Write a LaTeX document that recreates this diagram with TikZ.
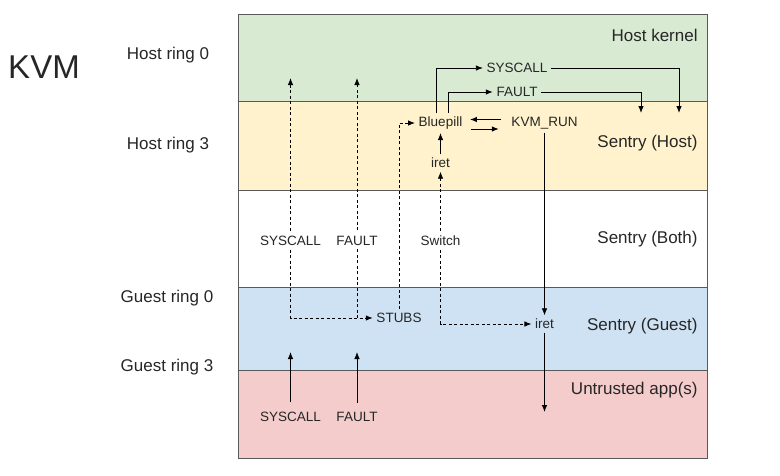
\documentclass[tikz,border=0pt]{standalone}
\usepackage{fontspec}
\setmainfont{Liberation Sans}
\usetikzlibrary{positioning,arrows.meta}
\definecolor{kerngreen}{HTML}{D9EAD3}
\definecolor{hostyellow}{HTML}{FFF2CC}
\definecolor{guestblue}{HTML}{CFE2F3}
\definecolor{apppink}{HTML}{F4CCCC}
\definecolor{bandline}{HTML}{595959}
\tikzset{
  lbl/.style={font=\fontsize{13.5}{16}\selectfont,text=black!85},
  ring/.style={font=\fontsize{17}{20}\selectfont,text=black!85},
  zone/.style={ring,anchor=east,inner sep=0pt},
  dsh/.style={dash pattern=on 3pt off 2.5pt},
}
\begin{document}
\begin{tikzpicture}[x=1pt,y=-1pt,line width=0.8pt,>={Latex[length=7pt,width=5.5pt]}]
\useasboundingbox(0,0)rectangle(780,475);
\pgfmathsetmacro{\xL}{238}
\pgfmathsetmacro{\xR}{707}
\pgfmathsetmacro{\yA}{14}
\pgfmathsetmacro{\yB}{101}
\pgfmathsetmacro{\yC}{190}
\pgfmathsetmacro{\yD}{287}
\pgfmathsetmacro{\yE}{370}
\pgfmathsetmacro{\yF}{458}
\pgfmathsetmacro{\xS}{290.5}
\pgfmathsetmacro{\xF}{357}
\pgfmathsetmacro{\xM}{440.5}
\pgfmathsetmacro{\xK}{544.5}
\fill[kerngreen](\xL,\yA)rectangle(\xR,\yB);
\fill[hostyellow](\xL,\yB)rectangle(\xR,\yC);
\fill[guestblue](\xL,\yD)rectangle(\xR,\yE);
\fill[apppink](\xL,\yE)rectangle(\xR,\yF);
\draw[bandline](\xL,\yA)rectangle(\xR,\yF);
\foreach \yy in {\yB,\yC,\yD,\yE}
  \draw[bandline](\xL,\yy)--(\xR,\yy);
%
\node[font=\fontsize{33}{36}\selectfont,text=black!85](kvm)at(44,67){KVM};
\node[ring](hr0)at(168,55){Host ring 0};
\node[ring](hr3)at(168,145){Host ring 3};
\node[ring](gr0)at(167,298){Guest ring 0};
\node[ring](gr3)at(167,367){Guest ring 3};
%
\node[zone](hk)at(698,35){Host kernel};
\node[zone](sh)at(698,143){Sentry (Host)};
\node[zone](sb)at(698,239){Sentry (Both)};
\node[zone](sg)at(698,326){Sentry (Guest)};
\node[zone](ua)at(698,390){Untrusted app(s)};
%
\node[lbl](bp)at(\xM,123){Bluepill};
\node[lbl](kr)at(\xK,123){KVM\_RUN};
\node[lbl](ih)at(\xM,163){iret};
\node[lbl](ig)at(\xK,324){iret};
\node[lbl](stubs)at(399,318){STUBS};
\node[lbl](hsys)at(517,68){SYSCALL};
\node[lbl](hflt)at(517,92){FAULT};
\node[lbl](gsys)at(\xS,417){SYSCALL};
\node[lbl](gflt)at(\xF,417){FAULT};
\coordinate(sT)at(\xS,78);
\coordinate(fT)at(\xF,78);
\coordinate(fB)at(\xF,318);
\coordinate(sE)at(679,113);
\coordinate(fE)at(641,113);
\coordinate(aB)at(\xK,412);
\coordinate(gsT)at(\xS,352);
\coordinate(gfT)at(\xF,352);
%
\draw[dsh,<->](sT)|-(stubs);
\draw[dsh,->](fB)--(fT);
\draw[dsh,->](stubs.north)|-(bp);
\draw[dsh,<->](ih)|-(ig);
\node[lbl,fill=white](msys)at(\xS,241){SYSCALL};
\node[lbl,fill=white](mflt)at(\xF,241){FAULT};
\node[lbl,fill=white](msw)at(\xM,241){Switch};
%
\draw[->,shorten <=7pt,shorten >=4pt]([yshift=3.5pt]kr.west)--([yshift=3.5pt]bp.east);
\draw[->,shorten <=5pt,shorten >=9pt]([yshift=-6pt]bp.east)--([yshift=-6pt]kr.west);
\draw[->](ih)--(bp);
\draw[->]([xshift=-4.5pt]bp.north)|-(hsys);
\draw[->](hsys)-|(sE);
\draw[->]([xshift=7.5pt]bp.north)|-(hflt);
\draw[->](hflt)-|(fE);
\draw[->](kr)--(ig);
\draw[->](ig)--(aB);
\draw[->,shorten <=6pt](gsys)--(gsT);
\draw[->,shorten <=6pt](gflt)--(gfT);
\end{tikzpicture}
\end{document}
